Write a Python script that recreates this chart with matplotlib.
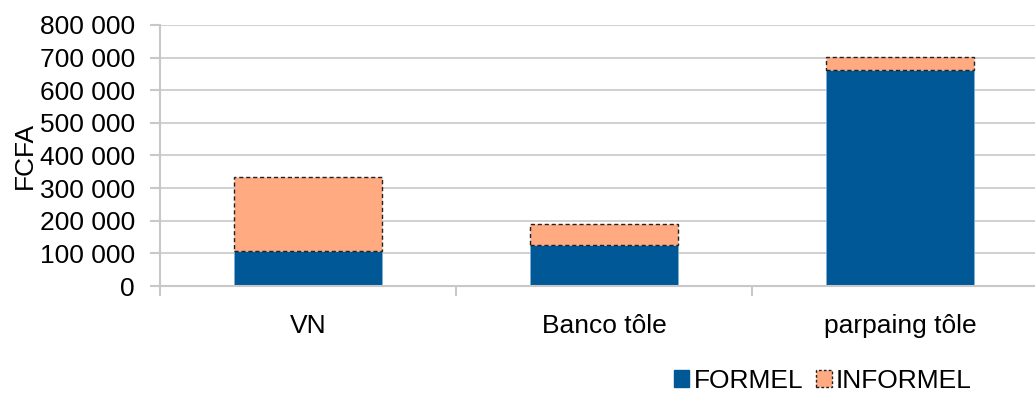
import matplotlib.pyplot as plt
import numpy as np
from matplotlib.patches import Patch

plt.rcParams['font.family'] = ['Liberation Sans', 'DejaVu Sans']

categories = ['VN', 'Banco tôle', 'parpaing tôle']
formel = [108000, 126000, 663000]
informel = [225000, 65000, 40000]
yticks = [0, 100000, 200000, 300000, 400000, 500000, 600000, 700000, 800000]

BLUE = '#005896'
ORANGE = '#ffaa80'
GRID = '#c8c8c8'
FS = 19

fig = plt.figure(figsize=(10.35, 3.97), dpi=100)
ax = fig.add_axes([160/1035, 111/397, 888/1035, 261/397])

x = np.arange(len(categories))
ax.bar(x, formel, width=0.5, color=BLUE, edgecolor='#7fb0d8', linewidth=0.6, zorder=2)
ax.bar(x, informel, width=0.5, bottom=formel, color=ORANGE,
       edgecolor='#222222', linewidth=1.0, linestyle=(0, (3, 2)), zorder=2)

ax.set_xlim(-0.5, len(categories) - 0.5)
ax.set_ylim(0, 800000)
ax.set_yticks(yticks)
ax.set_yticklabels(['{:,}'.format(v).replace(',', ' ') for v in yticks], fontsize=FS)
ax.set_xticks(x)
ax.set_xticklabels(categories, fontsize=FS)
ax.set_xticks(np.arange(len(categories) + 1) - 0.5, minor=True)
ax.tick_params(axis='x', which='major', length=0, pad=20)
ax.tick_params(axis='x', which='minor', length=7, color=GRID, width=1.5)
ax.tick_params(axis='y', length=7, color=GRID, width=1.5, pad=11)
ax.yaxis.grid(True, color=GRID, linewidth=1.2, zorder=0)
ax.set_axisbelow(True)
for s in ['top', 'right']:
    ax.spines[s].set_visible(False)
for s in ['left', 'bottom']:
    ax.spines[s].set_color(GRID)
    ax.spines[s].set_linewidth(1.5)
ax.set_ylabel('FCFA', fontsize=FS, labelpad=2)

handles = [Patch(facecolor=BLUE, edgecolor=BLUE, label='FORMEL'),
           Patch(facecolor=ORANGE, edgecolor='#222222', linestyle=(0, (2, 1.5)), label='INFORMEL')]
fig.legend(handles=handles, loc='lower right', bbox_to_anchor=(0.962, -0.05), ncol=2,
           frameon=False, fontsize=FS, handlelength=0.6, handleheight=0.6,
           handletextpad=0.15, columnspacing=0.5)

fig.savefig('out.png', dpi=100)
